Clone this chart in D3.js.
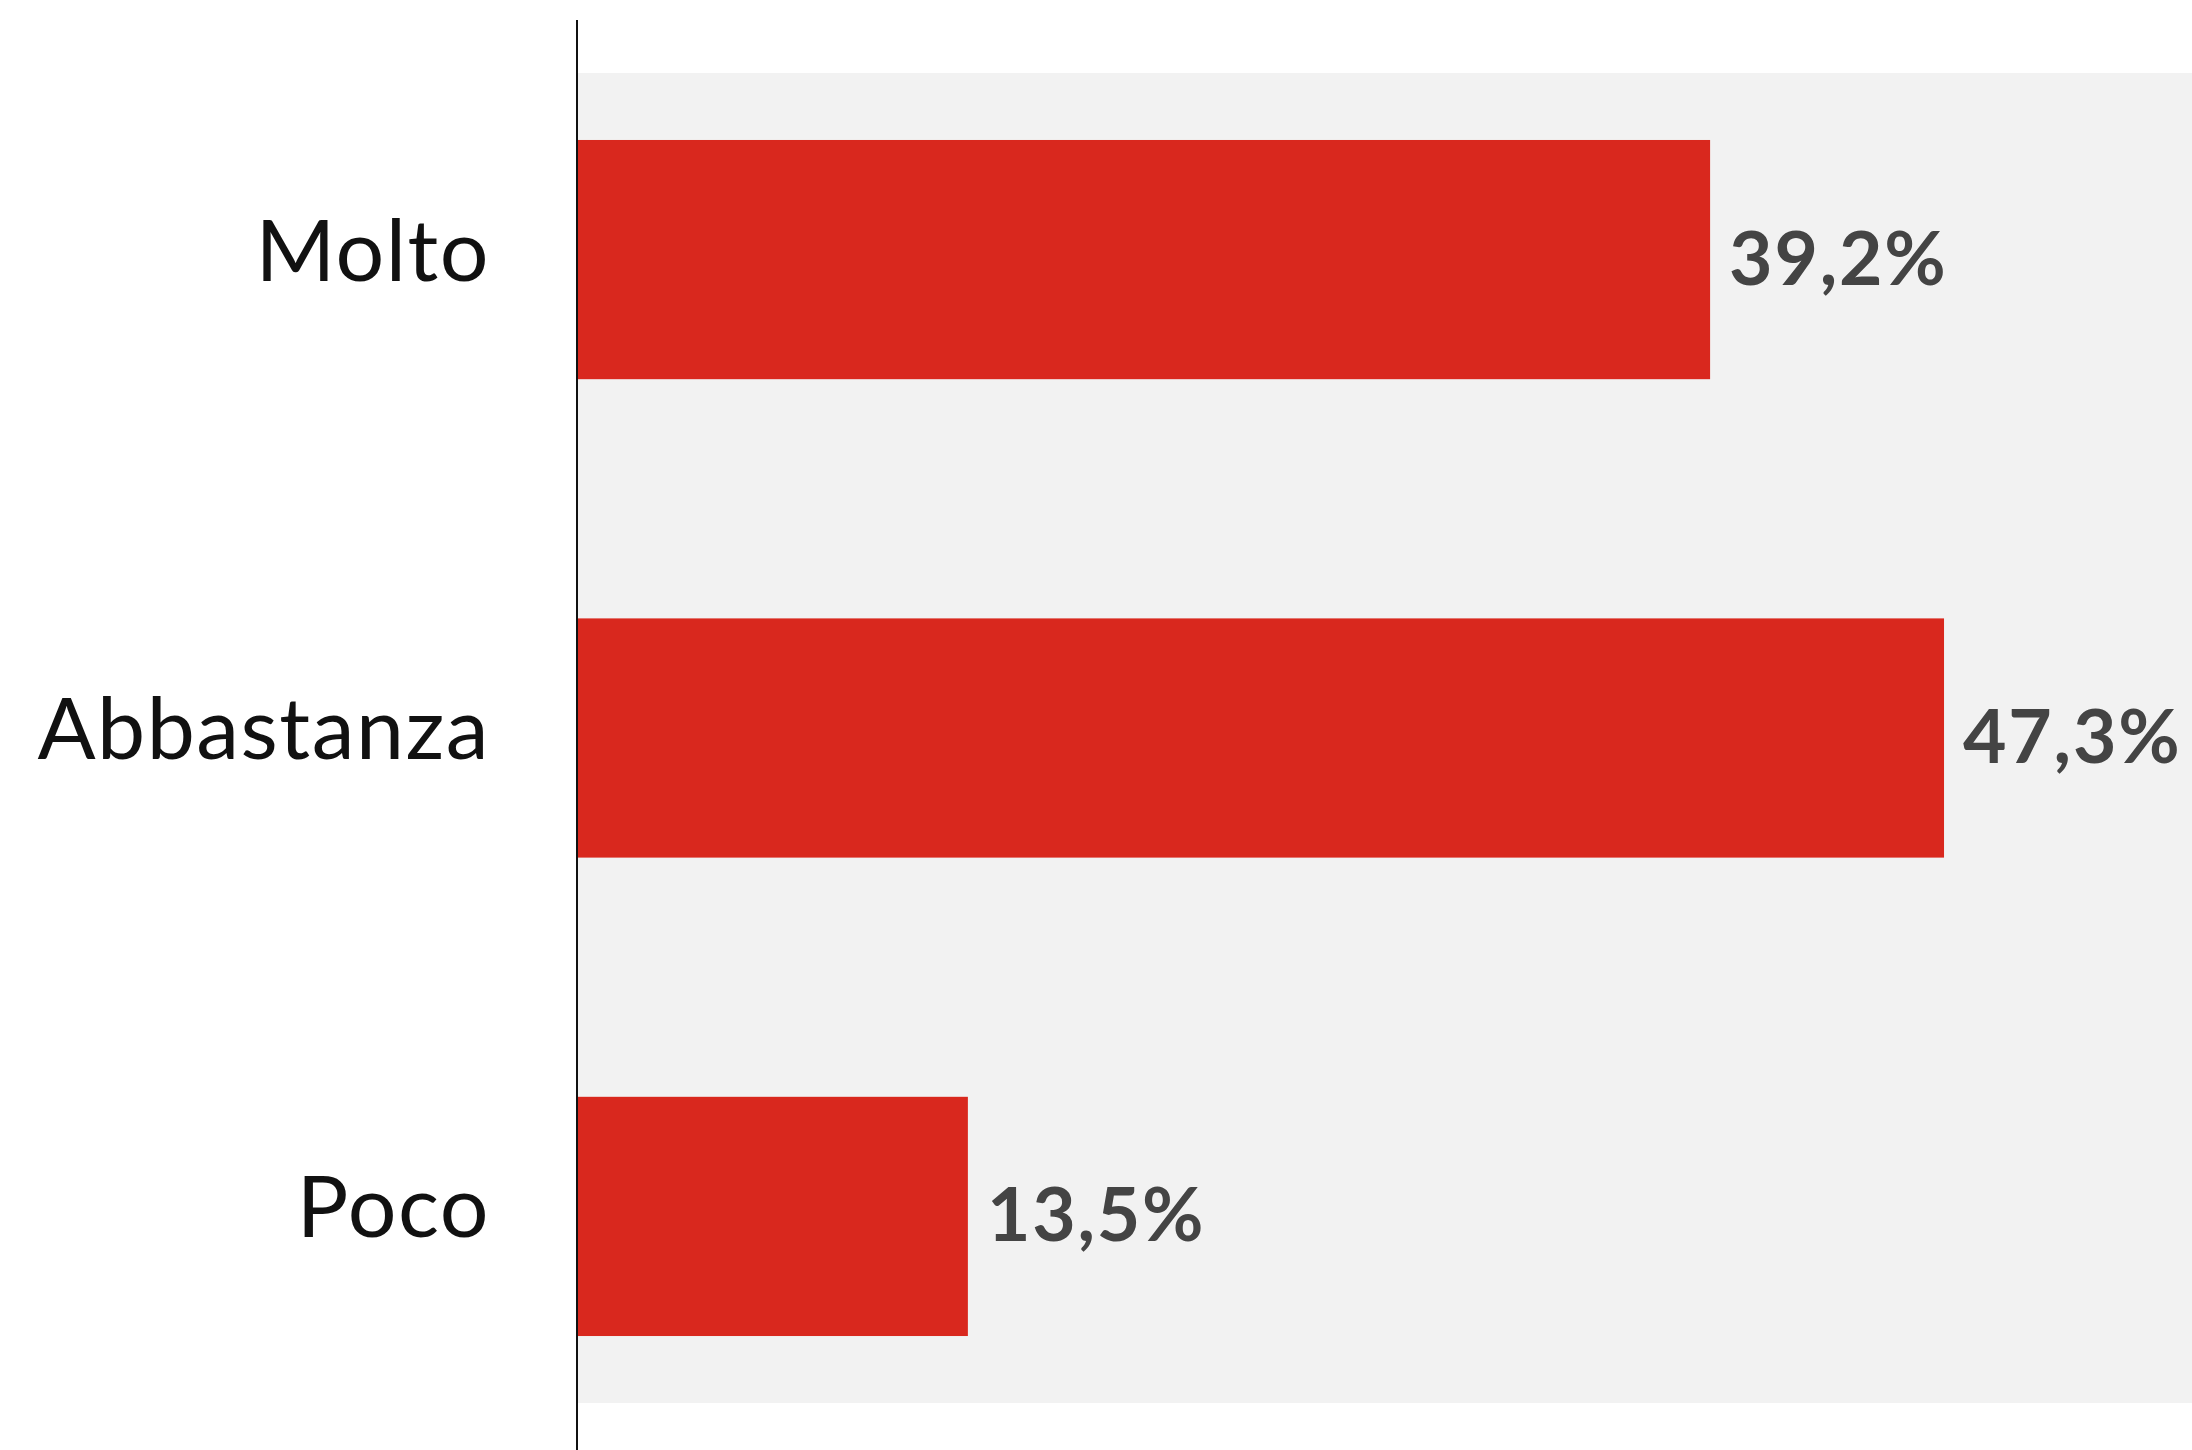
<!DOCTYPE html>
<html>
<head>
<meta charset="utf-8">
<script src="https://cdn.jsdelivr.net/npm/d3@7"></script>
<style>
  html, body { margin: 0; padding: 0; background: #ffffff; }
  svg { display: block; }
</style>
</head>
<body>
<svg id="chart" width="2192" height="1450"></svg>
<script>
// Survey answers and their shares (%)
const categories = ["Molto", "Abbastanza", "Poco"];
const values = [39.2, 47.3, 13.5];
const valueLabels = ["39,2%", "47,3%", "13,5%"];

const W = 2192, H = 1450;
const axisX = 577;

const svg = d3.select("#chart");

const x = d3.scaleLinear().domain([0, 56]).range([axisX + 1, axisX + 1 + 56 * 28.88]);
const y = d3.scaleBand().domain(categories).range([73, 1403]).paddingInner(0.5).paddingOuter(0.14);

// plot background
svg.append("rect")
  .attr("x", axisX + 1).attr("y", 73)
  .attr("width", W - axisX - 1).attr("height", 1403 - 73)
  .attr("fill", "#f2f2f2");

// bars
svg.selectAll("rect.bar")
  .data(categories)
  .join("rect")
  .attr("class", "bar")
  .attr("x", x(0))
  .attr("y", d => y(d))
  .attr("width", (d, i) => x(values[i]) - x(0))
  .attr("height", y.bandwidth())
  .attr("fill", "#d9281e");

// value labels
svg.selectAll("text.val")
  .data(categories)
  .join("text")
  .attr("class", "val")
  .attr("x", (d, i) => x(values[i]) + 19)
  .attr("y", d => y(d) + y.bandwidth() / 2 + 25)
  .attr("font-family", "Lato, 'Open Sans', sans-serif")
  .attr("font-weight", 700)
  .attr("font-size", 75)
  .attr("letter-spacing", 1.8)
  .attr("fill", "#444444")
  .text((d, i) => valueLabels[i]);

// category axis
const yAxis = d3.axisLeft(y).tickSize(0).tickPadding(87);
const g = svg.append("g").attr("transform", `translate(${axisX},0)`).call(yAxis);
g.select(".domain").remove();
g.selectAll("text")
  .attr("font-family", "Lato, 'Open Sans', sans-serif")
  .attr("font-size", 86)
  .attr("letter-spacing", 1.5)
  .attr("fill", "#111111")
  .attr("dy", null)
  .attr("transform", "translate(0,21)");

// vertical axis line
svg.append("line")
  .attr("x1", axisX).attr("x2", axisX)
  .attr("y1", 20).attr("y2", H)
  .attr("stroke", "#111111").attr("stroke-width", 2);
</script>
</body>
</html>
